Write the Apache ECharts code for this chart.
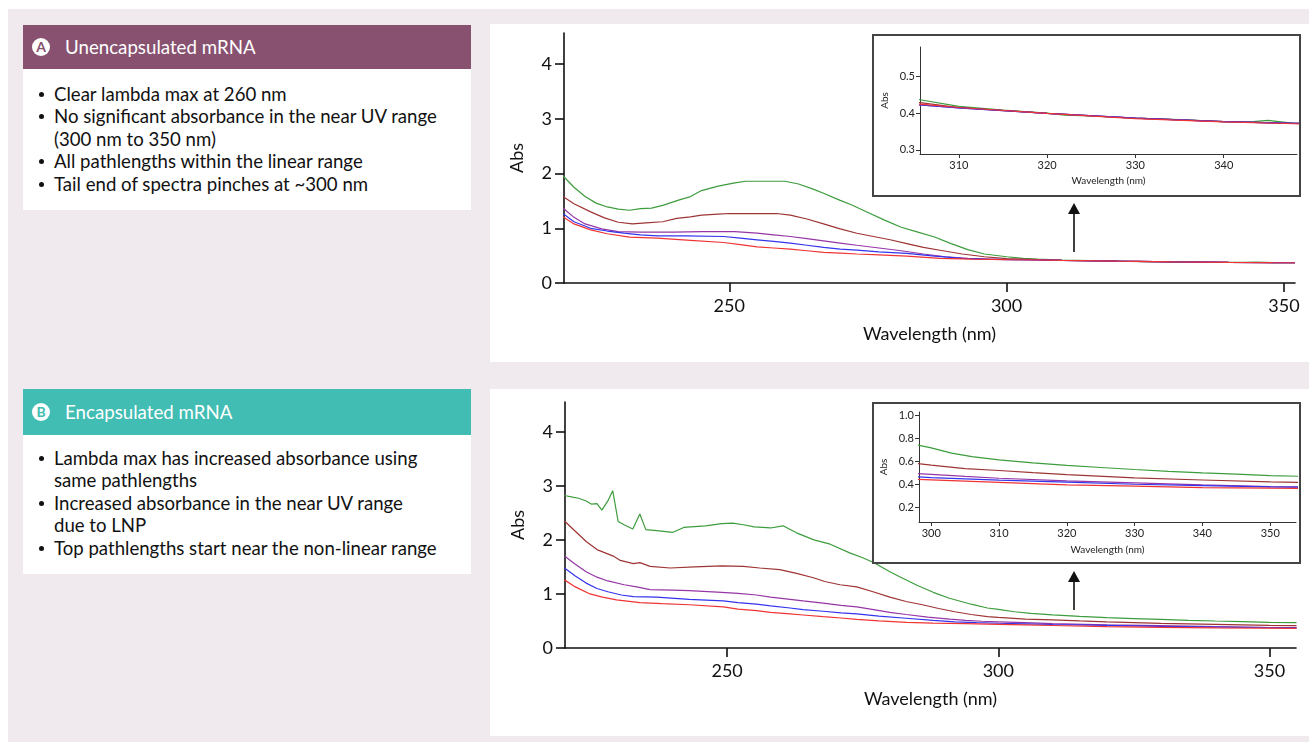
<!DOCTYPE html>
<html>
<head>
<meta charset="utf-8">
<script src="https://cdn.jsdelivr.net/npm/echarts@6/dist/echarts.min.js"></script>
<style>
  html, body { margin: 0; padding: 0; background: #fff; }
  body { width: 1309px; height: 742px; position: relative; overflow: hidden; font-family: Lato, "Open Sans", sans-serif; }
  .bg { position: absolute; left: 8px; top: 9px; right: 0; bottom: 0; background: #f0eaee; }
  .plot-area { position: absolute; left: 490px; width: 819px; background: #fff; }
  .head { position: absolute; left: 23px; width: 448px; color: #fff; font-size: 18.7px; box-sizing: border-box; padding-left: 42px; }
  .head .badge { position: absolute; left: 9px; width: 18px; height: 18px; border-radius: 50%; background: #fff; font-weight: 700; font-size: 14px; line-height: 18px; text-align: center; }
  .note { position: absolute; left: 23px; width: 448px; background: #fff; box-sizing: border-box; padding-left: 31px; color: #111; font-size: 18.6px; line-height: 22.4px; }
  .note div { position: relative; }
  .note div.b::before { content: ""; position: absolute; left: -15px; top: 9px; width: 5px; height: 5px; border-radius: 50%; background: #111; }
  #chart { position: absolute; left: 0; top: 0; width: 1309px; height: 742px; }
</style>
</head>
<body>
<div class="bg"></div>
<div class="plot-area" style="top:24px;height:338px"></div>
<div class="plot-area" style="top:389px;height:347px"></div>

<div class="head" style="top:25px;height:44px;line-height:44px;background:#87516f">
  <span class="badge" style="top:13px;color:#87516f">A</span>Unencapsulated mRNA
</div>
<div class="note" style="top:69px;height:141px;padding-top:14px">
  <div class="b">Clear lambda max at 260 nm</div>
  <div class="b">No significant absorbance in the near UV range</div>
  <div>(300 nm to 350 nm)</div>
  <div class="b">All pathlengths within the linear range</div>
  <div class="b">Tail end of spectra pinches at ~300 nm</div>
</div>

<div class="head" style="top:389px;height:46px;line-height:46px;background:#41bdb3">
  <span class="badge" style="top:14px;color:#41bdb3">B</span>Encapsulated mRNA
</div>
<div class="note" style="top:435px;height:139px;padding-top:12px">
  <div class="b">Lambda max has increased absorbance using</div>
  <div>same pathlengths</div>
  <div class="b">Increased absorbance in the near UV range</div>
  <div>due to LNP</div>
  <div class="b">Top pathlengths start near the non-linear range</div>
</div>

<div id="chart"></div>

<script>
// colours of the five pathlengths
const seriesColors = ['#3d9c3d', '#9e3434', '#9636a6', '#3434ee', '#f03434'];
const seriesNames = ['Path 1', 'Path 2', 'Path 3', 'Path 4', 'Path 5'];

// A: unencapsulated mRNA, [wavelength nm, Abs]
const unencGreen = [[220,1.96],[222,1.75],[224,1.58],[226,1.46],[228,1.39],[230,1.35],[232,1.33],[234,1.36],[236,1.37],[238,1.42],[241,1.52],[243,1.58],[245,1.69],[248,1.77],[251,1.83],[253,1.86],[260,1.86],[262.5,1.81],[265,1.72],[267,1.64],[270,1.51],[272,1.43],[275,1.29],[278,1.15],[281,1.02],[284,0.93],[287,0.84],[290,0.72],[293,0.61],[296,0.53],[300,0.48],[303,0.45],[305.6,0.436],[310,0.418],[315,0.408],[320,0.400],[322,0.394],[325,0.392],[330,0.386],[335,0.382],[340,0.377],[343,0.376],[345,0.38],[348,0.372],[352,0.37]];
const unencBrown = [[220,1.58],[222,1.45],[225,1.30],[227.5,1.19],[230,1.11],[232.5,1.08],[235,1.10],[238,1.12],[240.5,1.18],[243,1.21],[245,1.24],[248,1.26],[250,1.27],[258.5,1.27],[261,1.24],[264,1.17],[267,1.08],[270,0.99],[273,0.91],[276,0.85],[279,0.79],[282,0.72],[285,0.65],[288.5,0.59],[292,0.53],[296,0.48],[300,0.445],[305.6,0.428],[310,0.415],[320,0.399],[330,0.386],[340,0.377],[348,0.372],[352,0.37]];
const unencPurple = [[220,1.37],[222,1.2],[224,1.08],[227,0.99],[230,0.94],[234,0.93],[240,0.93],[245,0.94],[251,0.94],[255,0.91],[258,0.88],[261,0.85],[264,0.81],[267,0.77],[270,0.73],[273,0.69],[277,0.64],[281,0.59],[285,0.53],[289,0.48],[293,0.45],[297,0.435],[300,0.43],[305.6,0.422],[310,0.414],[320,0.399],[330,0.386],[340,0.377],[348,0.372],[352,0.37]];
const unencBlue = [[220,1.27],[222,1.12],[225,1.00],[228,0.95],[231,0.91],[234,0.88],[237,0.86],[242,0.86],[249,0.85],[252,0.82],[255,0.79],[258,0.76],[261,0.73],[264,0.69],[267,0.65],[270,0.62],[273,0.60],[277,0.57],[282,0.54],[287,0.49],[292,0.45],[296,0.435],[300,0.428],[305.6,0.422],[310,0.414],[320,0.399],[330,0.386],[340,0.377],[348,0.372],[352,0.37]];
const unencRed = [[220,1.21],[222,1.08],[225,0.97],[228,0.90],[232,0.84],[237,0.82],[243,0.78],[249,0.74],[252,0.70],[255,0.66],[258,0.64],[261,0.62],[264,0.59],[267,0.56],[270,0.545],[273,0.53],[277,0.515],[282,0.49],[288,0.45],[294,0.435],[300,0.428],[305.6,0.424],[310,0.415],[320,0.399],[330,0.385],[340,0.376],[348,0.371],[352,0.37]];

// B: encapsulated mRNA, [wavelength nm, Abs]
const encGreen = [[220,2.82],[221.5,2.79],[222.6,2.77],[224,2.72],[225,2.66],[226,2.67],[226.9,2.55],[228,2.72],[228.9,2.91],[229.9,2.34],[231,2.28],[232.6,2.20],[233.9,2.48],[235,2.19],[237,2.17],[240,2.14],[242,2.23],[246,2.26],[249,2.30],[251,2.31],[253,2.28],[255,2.24],[258,2.22],[260.3,2.26],[262.8,2.13],[266,2.00],[269,1.92],[272.6,1.76],[275,1.67],[277,1.58],[280,1.41],[282,1.31],[285,1.16],[288,1.03],[291,0.92],[295,0.81],[298,0.74],[300,0.715],[303,0.67],[306,0.64],[310,0.612],[315,0.585],[320,0.563],[325,0.545],[330,0.528],[335,0.512],[340,0.499],[345,0.487],[350,0.475],[355,0.468]];
const encBrown = [[220,2.35],[222,2.16],[224,1.97],[226,1.82],[227.5,1.76],[229,1.70],[230.3,1.62],[232.7,1.56],[233.9,1.58],[235.8,1.51],[239.5,1.48],[244,1.50],[249,1.52],[253,1.51],[256,1.48],[259.7,1.45],[262.8,1.38],[265.9,1.30],[268,1.23],[270.8,1.17],[273.9,1.13],[276.9,1.04],[280,0.94],[283,0.86],[286,0.80],[289,0.73],[292,0.67],[295,0.62],[298,0.58],[300,0.565],[305,0.535],[310,0.519],[315,0.50],[320,0.484],[330,0.455],[340,0.437],[350,0.42],[355,0.415]];
const encPurple = [[220,1.70],[222,1.55],[224,1.41],[226,1.31],[228,1.24],[231,1.17],[233.3,1.13],[235.8,1.08],[240,1.07],[243,1.06],[249,1.03],[252,1.01],[255.4,0.98],[258,0.94],[261.6,0.90],[264,0.87],[267.7,0.83],[271,0.79],[273.9,0.76],[277,0.71],[280,0.66],[283,0.62],[287,0.57],[291,0.535],[294,0.51],[297,0.495],[300,0.485],[305,0.468],[310,0.452],[320,0.429],[330,0.412],[340,0.394],[350,0.379],[355,0.376]];
const encBlue = [[220,1.48],[222,1.33],[224,1.20],[226,1.10],[228,1.04],[230.5,0.98],[232.7,0.95],[237,0.94],[243,0.90],[249.3,0.87],[252,0.84],[255.4,0.81],[258,0.78],[261.6,0.74],[264,0.71],[267.7,0.68],[271,0.65],[273.9,0.63],[278,0.59],[283,0.55],[288,0.51],[292,0.485],[296,0.47],[300,0.458],[305,0.447],[310,0.435],[320,0.418],[330,0.40],[340,0.388],[350,0.377],[355,0.375]];
const encRed = [[220,1.26],[222,1.13],[224.7,1.00],[227,0.94],[229.6,0.89],[233.9,0.84],[238,0.82],[243,0.80],[249.3,0.76],[252,0.72],[255.4,0.69],[258,0.66],[261.6,0.63],[264,0.61],[267.7,0.58],[271,0.555],[273.9,0.53],[278,0.5],[283.1,0.475],[288,0.46],[294,0.45],[298,0.442],[300,0.438],[305,0.427],[310,0.416],[320,0.395],[330,0.383],[340,0.371],[350,0.366],[355,0.364]];

const unencSeries = [unencGreen, unencBrown, unencPurple, unencBlue, unencRed];
const encSeries = [encGreen, encBrown, encPurple, encBlue, encRed];

// tick labels
const mainXTicks = [250, 300, 350];
const mainYTicks = [0, 1, 2, 3, 4];
const insetAXTicks = [310, 320, 330, 340];
const insetAYTicks = [0.3, 0.4, 0.5];
const insetBXTicks = [300, 310, 320, 330, 340, 350];
const insetBYTicks = [0.2, 0.4, 0.6, 0.8, 1.0];

const font = 'Lato';
const chart = echarts.init(document.getElementById('chart'), null, { renderer: 'canvas' });

const mainX = (gridIndex, min, max) => ({
  type: 'value', gridIndex, min, max,
  name: 'Wavelength (nm)', nameLocation: 'middle', nameGap: 42,
  nameTextStyle: { fontFamily: font, fontSize: 18, color: '#111' },
  axisLine: { lineStyle: { color: '#111', width: 1.6 } },
  axisTick: { customValues: mainXTicks, length: 9, lineStyle: { color: '#111', width: 1.6 } },
  axisLabel: { customValues: mainXTicks, margin: 14, fontFamily: font, fontSize: 18, color: '#111' },
  splitLine: { show: false }
});
const mainY = (gridIndex, max) => ({
  type: 'value', gridIndex, min: 0, max,
  name: 'Abs', nameLocation: 'middle', nameGap: 38, nameRotate: 90,
  nameTextStyle: { fontFamily: font, fontSize: 18, color: '#111' },
  axisLine: { show: true, lineStyle: { color: '#111', width: 1.6 } },
  axisTick: { show: true, customValues: mainYTicks, length: 9, lineStyle: { color: '#111', width: 1.6 } },
  axisLabel: { customValues: mainYTicks, margin: 12, fontFamily: font, fontSize: 18, color: '#111' },
  splitLine: { show: false }
});
const insetX = (gridIndex, min, max, ticks, gap) => ({
  type: 'value', gridIndex, min, max, z: 6,
  name: 'Wavelength (nm)', nameLocation: 'middle', nameGap: gap,
  nameTextStyle: { fontFamily: font, fontSize: 10, color: '#222' },
  axisLine: { lineStyle: { color: '#333', width: 1 } },
  axisTick: { customValues: ticks, length: 4, lineStyle: { color: '#333' } },
  axisLabel: { customValues: ticks, margin: 6, fontFamily: font, fontSize: 11, color: '#222' },
  splitLine: { show: false }
});
const insetY = (gridIndex, min, max, ticks) => ({
  type: 'value', gridIndex, min, max, z: 6,
  name: 'Abs', nameLocation: 'middle', nameGap: 30, nameRotate: 90,
  nameTextStyle: { fontFamily: font, fontSize: 10, color: '#222' },
  axisLine: { show: true, lineStyle: { color: '#333', width: 1 } },
  axisTick: { show: true, customValues: ticks, length: 4, lineStyle: { color: '#333' } },
  axisLabel: { customValues: ticks, margin: 5, fontFamily: font, fontSize: 11, color: '#222', formatter: v => v.toFixed(1) },
  splitLine: { show: false }
});

const makeSeries = (list, xAxisIndex, z) => list.map((data, i) => ({
  type: 'line', name: seriesNames[i], xAxisIndex, yAxisIndex: xAxisIndex, data,
  showSymbol: false, symbol: 'none', smooth: false, z, clip: true,
  lineStyle: { color: seriesColors[i], width: 1.2 }, silent: true
}));

const arrow = (x, yTail, yTip) => ({
  type: 'group', z: 10, children: [
    { type: 'line', shape: { x1: x, y1: yTail, x2: x, y2: yTip + 9 }, style: { stroke: '#111', lineWidth: 1.6 } },
    { type: 'polygon', shape: { points: [[x, yTip], [x - 6, yTip + 11], [x + 6, yTip + 11]] }, style: { fill: '#111' } }
  ]
});

chart.setOption({
  animation: false,
  grid: [
    { left: 564, top: 33, width: 731, height: 250 },
    { left: 565, top: 402, width: 731, height: 246 },
    { left: 920, top: 47, width: 377, height: 107 },
    { left: 919, top: 412, width: 377, height: 110 }
  ],
  xAxis: [
    mainX(0, 220.2, 352),
    mainX(1, 220.1, 354.9),
    insetX(2, 305.6, 348.3, insetAXTicks, 22),
    insetX(3, 298.2, 353.8, insetBXTicks, 23)
  ],
  yAxis: [
    mainY(0, 4.57),
    mainY(1, 4.55),
    insetY(2, 0.289, 0.579, insetAYTicks),
    insetY(3, 0.073, 1.026, insetBYTicks)
  ],
  graphic: [
    { type: 'rect', z: 4, shape: { x: 873, y: 35, width: 427, height: 161 }, style: { fill: '#fff', stroke: '#444', lineWidth: 2 } },
    { type: 'rect', z: 4, shape: { x: 873, y: 403, width: 427, height: 160 }, style: { fill: '#fff', stroke: '#444', lineWidth: 2 } },
    arrow(1074, 252, 203),
    arrow(1074, 610, 571)
  ],
  series: [
    ...makeSeries(unencSeries, 0, 2),
    ...makeSeries(encSeries, 1, 2),
    ...makeSeries(unencSeries, 2, 6),
    ...makeSeries(encSeries, 3, 6)
  ]
});
</script>
</body>
</html>
